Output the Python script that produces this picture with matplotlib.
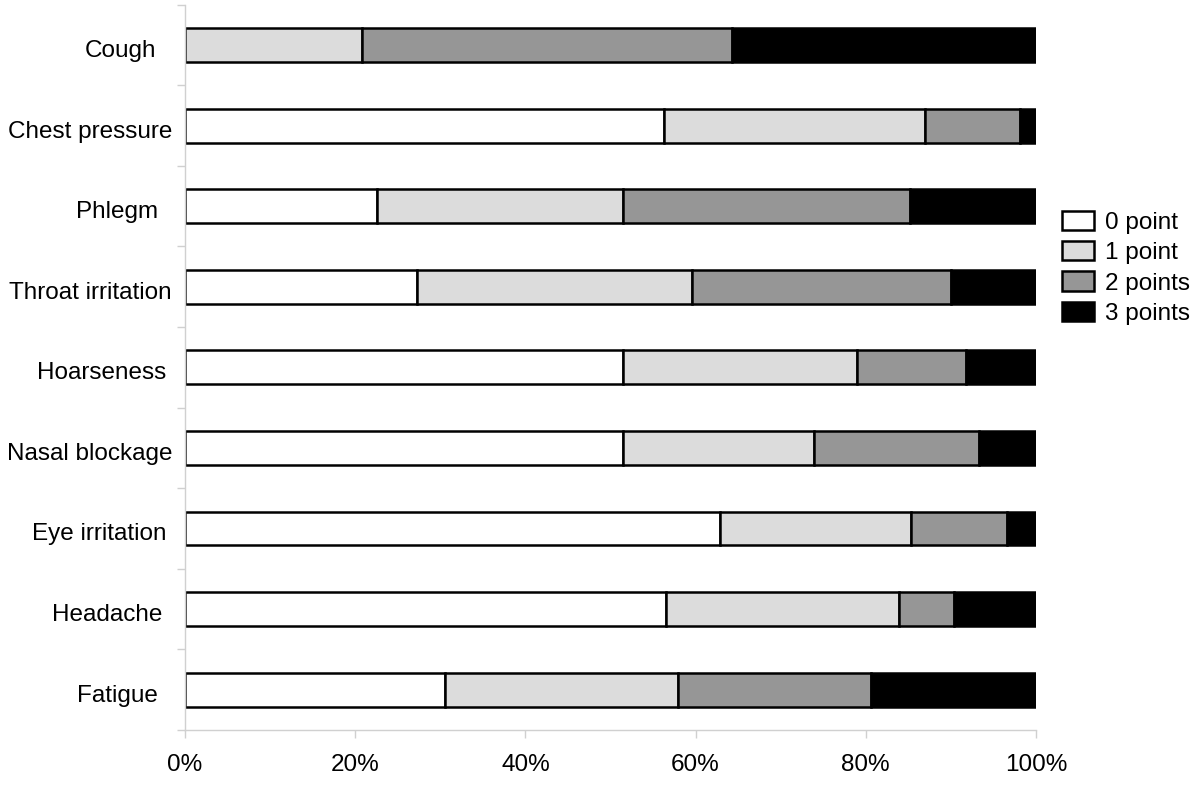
import numpy as np
import matplotlib.pyplot as plt
from matplotlib.patches import Patch

# symptom scores, % of respondents
symptoms = ['Cough', 'Chest pressure', 'Phlegm', 'Throat irritation', 'Hoarseness',
            'Nasal blockage', 'Eye irritation', 'Headache', 'Fatigue']
pt0 = [0.0, 56.3, 22.6, 27.3, 51.5, 51.5, 62.9, 56.5, 30.6]
pt1 = [20.8, 30.7, 28.9, 32.3, 27.5, 22.4, 22.4, 27.4, 27.3]
pt2 = [43.5, 11.1, 33.7, 30.4, 12.8, 19.4, 11.3, 6.5, 22.7]
pt3 = [35.7, 1.9, 14.8, 10.0, 8.2, 6.7, 3.4, 9.6, 19.4]
series_labels = ['0 point', '1 point', '2 points', '3 points']
colors = ['white', '#dcdcdc', '#969696', 'black']

plt.rcParams['font.family'] = ['Liberation Sans', 'DejaVu Sans']
fs = 17.5
axcol = '#d0d0d0'

fig = plt.figure(figsize=(12, 7.89), dpi=100)
ax = fig.add_axes([185 / 1200, 1 - 730 / 789, (1036 - 185) / 1200, (730 - 4.7) / 789])

y = np.arange(len(symptoms))
left = np.zeros(len(symptoms))
for vals, c in zip([pt0, pt1, pt2, pt3], colors):
    ax.barh(y, vals, left=left, height=0.42, color=c, edgecolor='black', linewidth=1.8)
    left += np.array(vals)

ax.set_xlim(0, 100)
ax.set_ylim(len(symptoms) - 0.5, -0.5)
ax.set_xticks(np.arange(0, 101, 20))
ax.set_xticklabels([f'{v}%' for v in range(0, 101, 20)], fontsize=fs)
ax.set_yticks(np.arange(-0.5, len(symptoms)), minor=False)
ax.set_yticklabels([])
ax.tick_params(axis='both', color=axcol, length=6, width=1)
ax.tick_params(axis='x', pad=11)
for s in ['top', 'right']:
    ax.spines[s].set_visible(False)
for s in ['left', 'bottom']:
    ax.spines[s].set_color(axcol)
    ax.spines[s].set_linewidth(1)

# category labels, anchored about 83% along their width, baseline a bit below bar centre
labels = [ax.text(-0.015, yi + 0.148, name, transform=ax.get_yaxis_transform(), ha='right',
                  va='baseline', fontsize=fs) for yi, name in zip(y, symptoms)]
fig.canvas.draw()
r = fig.canvas.get_renderer()
ax_w = ax.get_window_extent(r).width
for t in labels:
    w = t.get_window_extent(r).width
    x0 = (144 - 185) / ax_w + 0.17 * w / ax_w
    t.set_x(x0)

handles = [Patch(facecolor=c, edgecolor='black', linewidth=1.8) for c in colors]
fig.legend(handles, series_labels, loc='upper left', bbox_to_anchor=(1062 / 1200, 0.733),
           frameon=False, fontsize=fs, borderpad=0, borderaxespad=0, handlelength=1.3,
           handleheight=0.85, labelspacing=0.3, handletextpad=0.45)

fig.savefig('out.png')
